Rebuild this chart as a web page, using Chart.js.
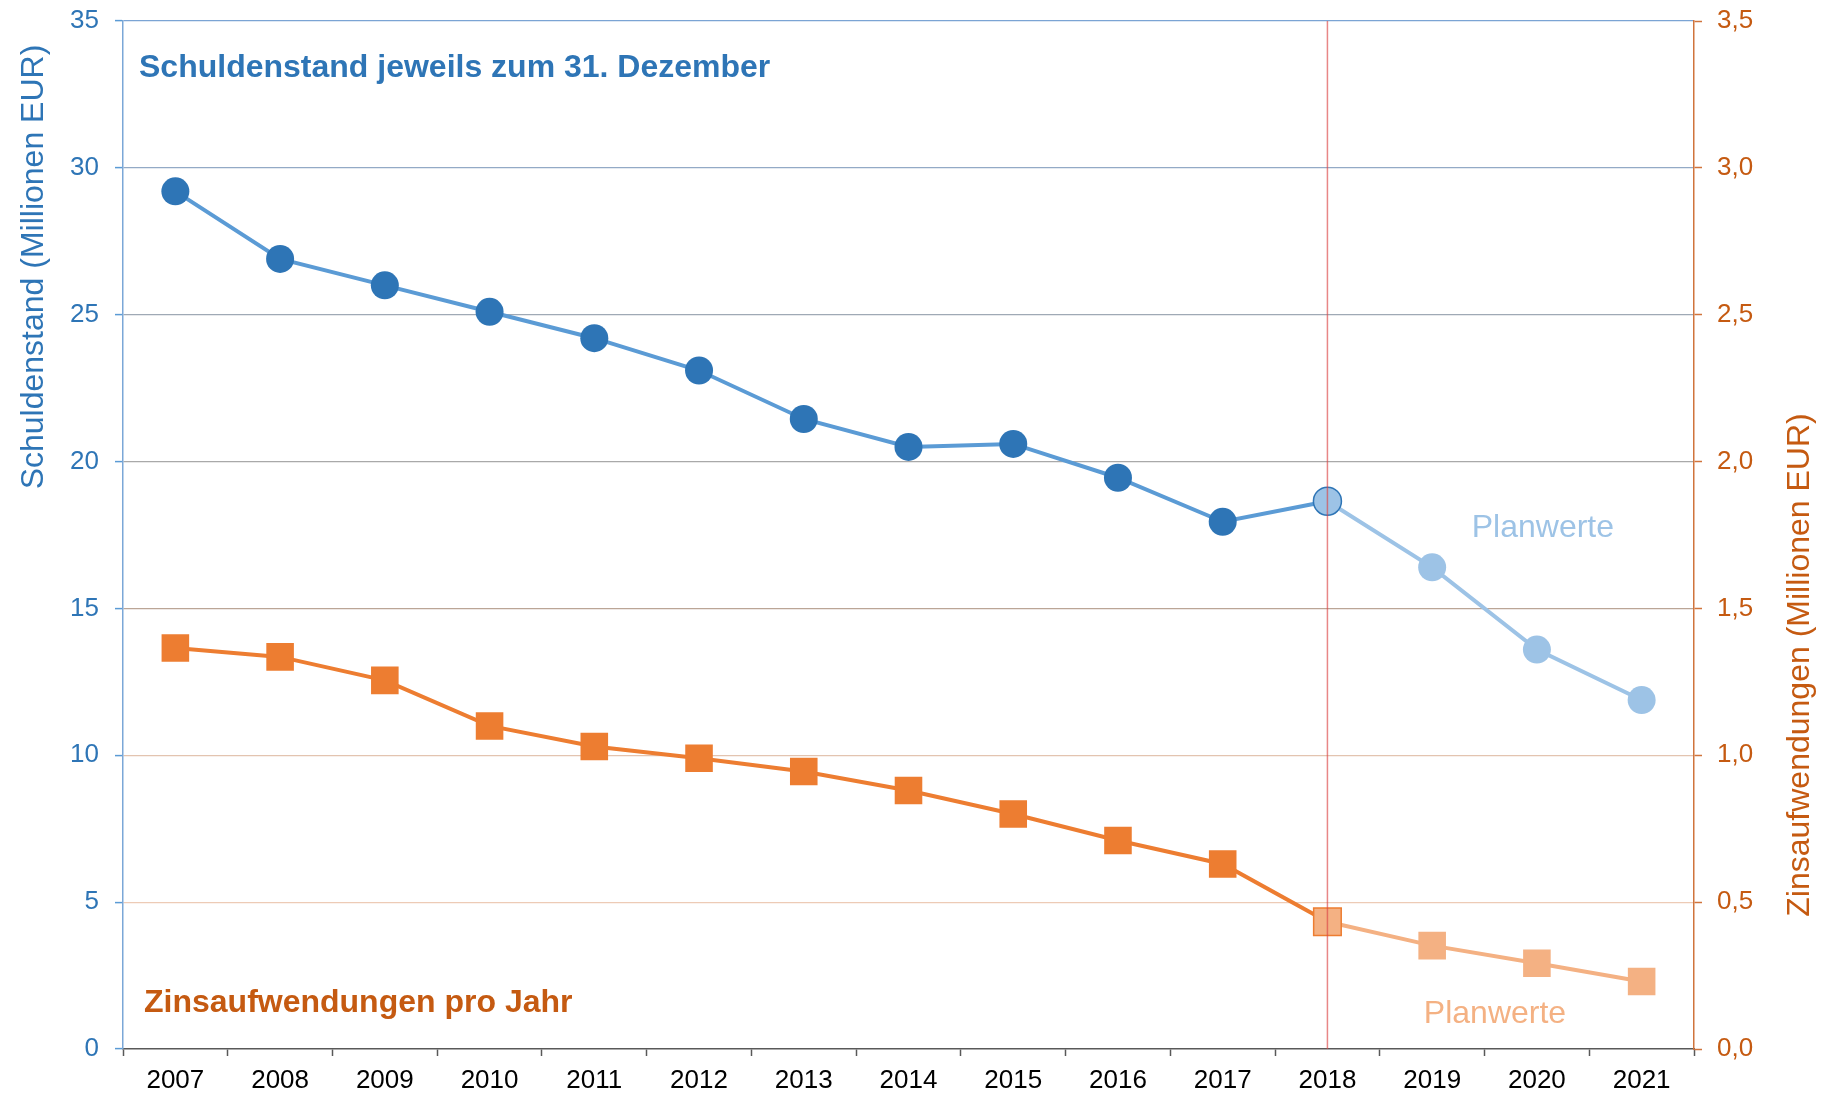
<!DOCTYPE html>
<html>
<head>
<meta charset="utf-8">
<script src="https://cdn.jsdelivr.net/npm/chart.js@4"></script>
<style>
html,body{margin:0;padding:0;background:#fff;}
canvas{display:block;}
</style>
</head>
<body>
<canvas id="c" width="1828" height="1093"></canvas>
<script>
const years = ['2007','2008','2009','2010','2011','2012','2013','2014','2015','2016','2017','2018','2019','2020','2021'];
const debtActual = [29.2, 26.9, 26.0, 25.1, 24.2, 23.1, 21.45, 20.5, 20.6, 19.45, 17.95, 18.65, null, null, null];
const debtPlan = [null, null, null, null, null, null, null, null, null, null, null, 18.65, 16.4, 13.6, 11.88];
const interestActual = [1.365, 1.335, 1.255, 1.1, 1.03, 0.99, 0.945, 0.88, 0.8, 0.71, 0.63, 0.433, null, null, null];
const interestPlan = [null, null, null, null, null, null, null, null, null, null, null, 0.433, 0.352, 0.292, 0.23];
const leftTitle = 'Schuldenstand (Millionen EUR)';
const rightTitle = 'Zinsaufwendungen (Millionen EUR)';
const debtLabel = 'Schuldenstand jeweils zum 31. Dezember';
const interestLabel = 'Zinsaufwendungen pro Jahr';
const planLabel = 'Planwerte';
const boundaryIndex = 11;

const FONT = "'Liberation Sans', Arial, sans-serif";
Chart.defaults.font.family = FONT;

const gridColors = {35:'#7BA4D4', 30:'#93AAC6', 25:'#9FA9B5', 20:'#A9A9A9', 15:'#BBA596', 10:'#E3C4B0', 5:'#EDCBB6', 0:'rgba(0,0,0,0)'};

const textPlugin = {
  id: 'texts',
  afterDatasetsDraw(chart) {
    const ctx = chart.ctx;
    const x = chart.scales.x, yL = chart.scales.yL, yR = chart.scales.yR;
    const a = chart.chartArea;
    ctx.save();
    const bx = x.getPixelForValue(boundaryIndex);
    ctx.strokeStyle = 'rgba(220,70,70,0.65)';
    ctx.lineWidth = 1.5;
    ctx.beginPath();
    ctx.moveTo(bx, a.top);
    ctx.lineTo(bx, a.bottom);
    ctx.stroke();

    ctx.textBaseline = 'alphabetic';
    ctx.textAlign = 'left';
    ctx.font = 'bold 32px ' + FONT;
    ctx.fillStyle = '#2E75B6';
    ctx.fillText(debtLabel, a.left + 16, a.top + 56);
    ctx.fillStyle = '#C55A11';
    ctx.fillText(interestLabel, a.left + 21, a.bottom - 37);

    ctx.font = '32px ' + FONT;
    ctx.textAlign = 'center';
    ctx.fillStyle = '#9DC3E6';
    ctx.fillText(planLabel, x.getPixelForValue(13) + 6, yL.getPixelForValue(17.8) + 11);
    ctx.fillStyle = '#F4B183';
    ctx.fillText(planLabel, x.getPixelForValue(12.6), yR.getPixelForValue(0.126) + 11);

    ctx.font = '32px ' + FONT;
    ctx.fillStyle = '#2E75B6';
    ctx.save();
    ctx.translate(43, 267);
    ctx.rotate(-Math.PI / 2);
    ctx.fillText(leftTitle, 0, 0);
    ctx.restore();
    ctx.fillStyle = '#C55A11';
    ctx.save();
    ctx.translate(1809, 665);
    ctx.rotate(-Math.PI / 2);
    ctx.fillText(rightTitle, 0, 0);
    ctx.restore();
    ctx.restore();
  }
};

new Chart(document.getElementById('c'), {
  type: 'line',
  data: {
    labels: years,
    datasets: [
      {
        label: 'Schuldenstand Plan', data: debtPlan, yAxisID: 'yL', order: 0,
        borderColor: '#9DC3E6', borderWidth: 4, backgroundColor: '#9DC3E6',
        pointBackgroundColor: '#9DC3E6',
        pointBorderColor: years.map((_, i) => i === boundaryIndex ? '#2E75B6' : '#9DC3E6'),
        pointBorderWidth: years.map((_, i) => i === boundaryIndex ? 1.5 : 0),
        pointRadius: 14, pointStyle: 'circle', tension: 0
      },
      {
        label: 'Schuldenstand', data: debtActual, yAxisID: 'yL', order: 1,
        borderColor: '#5B9BD5', borderWidth: 4, backgroundColor: '#2E75B6',
        pointBackgroundColor: '#2E75B6', pointBorderWidth: 0,
        pointRadius: years.map((_, i) => i === boundaryIndex ? 0 : 14), pointStyle: 'circle', tension: 0
      },
      {
        label: 'Zinsen Plan', data: interestPlan, yAxisID: 'yR', order: 2,
        borderColor: '#F4B183', borderWidth: 4, backgroundColor: '#F4B183',
        pointBackgroundColor: '#F4B183',
        pointBorderColor: years.map((_, i) => i === boundaryIndex ? '#ED7D31' : '#F4B183'),
        pointBorderWidth: years.map((_, i) => i === boundaryIndex ? 1.5 : 0),
        pointRadius: 19.5, pointStyle: 'rect', tension: 0
      },
      {
        label: 'Zinsen', data: interestActual, yAxisID: 'yR', order: 3,
        borderColor: '#ED7D31', borderWidth: 4, backgroundColor: '#ED7D31',
        pointBackgroundColor: '#ED7D31', pointBorderWidth: 0,
        pointRadius: years.map((_, i) => i === boundaryIndex ? 0 : 19.5), pointStyle: 'rect', tension: 0
      }
    ]
  },
  options: {
    responsive: false,
    animation: false,
    layout: { padding: { top: 21, left: 0, right: 0, bottom: 0 } },
    plugins: { legend: { display: false }, tooltip: { enabled: false } },
    scales: {
      x: {
        type: 'category', offset: true,
        grid: { offset: true, drawOnChartArea: false, tickLength: 7, tickColor: '#595959', tickWidth: 1.5 },
        border: { color: '#595959', width: 1.5 },
        ticks: { color: '#000', font: { size: 26 }, padding: 9, maxRotation: 0, autoSkip: false },
        afterFit(s) { s.height = 44; s.paddingLeft = 0; s.paddingRight = 0; }
      },
      yL: {
        position: 'left', min: 0, max: 35,
        ticks: { stepSize: 5, color: '#2E75B6', font: { size: 26 }, padding: 16 },
        grid: { color: c => gridColors[c.tick.value] || '#BBBBBB', lineWidth: 1.2, tickColor: '#5B9BD5', tickLength: 8, tickWidth: 1.5 },
        border: { color: '#7BA7D7', width: 1.5 },
        afterFit(s) { s.width = 123; s.paddingTop = 0; s.paddingBottom = 0; }
      },
      yR: {
        position: 'right', min: 0, max: 3.5,
        ticks: { stepSize: 0.5, color: '#C55A11', font: { size: 26 }, padding: 15,
                 callback: v => Number(v).toFixed(1).replace('.', ',') },
        grid: { drawOnChartArea: false, tickColor: '#D0743C', tickLength: 8, tickWidth: 1.5 },
        border: { color: '#D0743C', width: 1.5 },
        afterFit(s) { s.width = 134; s.paddingTop = 0; s.paddingBottom = 0; }
      }
    }
  },
  plugins: [textPlugin]
});
</script>
</body>
</html>
